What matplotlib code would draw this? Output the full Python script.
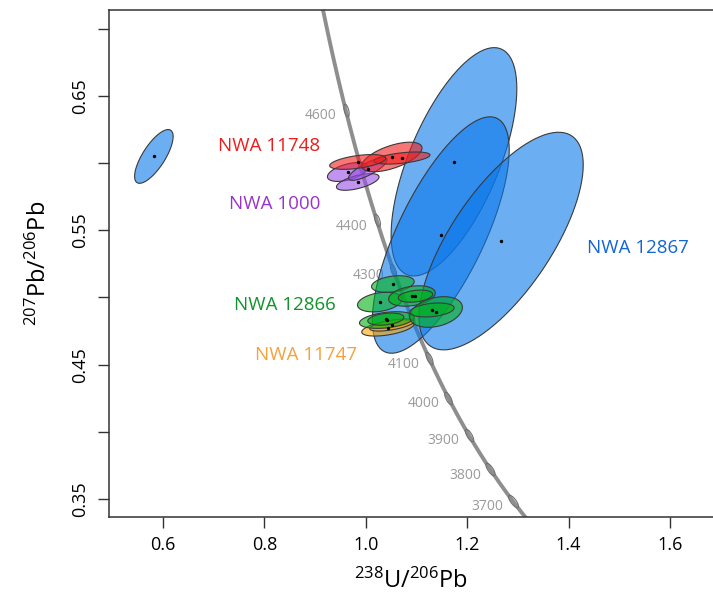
import numpy as np
import matplotlib
matplotlib.use("Agg")
import matplotlib.pyplot as plt
from matplotlib.path import Path
from matplotlib.patches import Polygon

plt.rcParams['font.family'] = ['Open Sans', 'DejaVu Sans']
plt.rcParams['mathtext.fontset'] = 'custom'
plt.rcParams['mathtext.rm'] = 'Open Sans'
plt.rcParams['mathtext.default'] = 'regular'

# error ellipses: x = 238U/206Pb, y = 207Pb/206Pb, sx/sy = half widths, rho = correlation
blue_x = [0.582, 1.174, 1.148, 1.267]
blue_sx = [0.038, 0.124, 0.135, 0.162]
blue_y = [0.605, 0.601, 0.5465, 0.542]
blue_sy = [0.020, 0.085, 0.088, 0.081]
blue_rho = [0.74, 0.64, 0.72, 0.70]

red_x = [1.0515, 1.0713, 0.9842]
red_sx = [0.0594, 0.0554, 0.0554]
red_y = [0.6046, 0.6038, 0.6009]
red_sy = [0.0110, 0.0045, 0.0055]
red_rho = [0.6, 0.5, 0.5]

purple_x = [0.9644, 0.9842, 1.004]
purple_sx = [0.0400, 0.0420, 0.0380]
purple_y = [0.5934, 0.5860, 0.5956]
purple_sy = [0.0070, 0.0062, 0.0084]
purple_rho = [0.5, 0.6, 0.8]

yellow_x = [1.0436, 1.0515]
yellow_sx = [0.0515, 0.0436]
yellow_y = [0.4773, 0.4795]
yellow_sy = [0.0060, 0.0045]
yellow_rho = [0.5, 0.6]

green_x = [1.0535, 1.0277, 1.0911, 1.0980, 1.0416, 1.0396, 1.1386, 1.1307]
green_sx = [0.0420, 0.0440, 0.0460, 0.0340, 0.0540, 0.0356, 0.0520, 0.0436]
green_y = [0.5100, 0.4966, 0.5011, 0.5010, 0.4832, 0.4839, 0.4892, 0.4907]
green_sy = [0.0062, 0.0073, 0.0076, 0.0045, 0.0062, 0.0045, 0.0114, 0.0052]
green_rho = [0.3, 0.3, 0.3, 0.3, 0.35, 0.3, 0.3, 0.3]

# concordia age ticks (Ma)
ages = [3700, 3800, 3900, 4000, 4100, 4200, 4300, 4400, 4500, 4600]
age_labels = [3700, 3800, 3900, 4000, 4100, 4300, 4400, 4600]

samples = ['NWA 11748', 'NWA 1000', 'NWA 12866', 'NWA 11747', 'NWA 12867']
label_x = [0.810, 0.820, 0.840, 0.883, 1.537]
label_y = [0.6128, 0.5696, 0.4944, 0.4571, 0.5368]
label_col = ['#ee1c1c', '#9933cc', '#12922a', '#f7a13c', '#1166d6']

# Tera-Wasserburg concordia
l238 = 1.55125e-10
l235 = 9.8485e-10
U85 = 137.818


def concordia(t_ma):
    t = np.asarray(t_ma) * 1e6
    e8 = np.exp(l238 * t) - 1
    e5 = np.exp(l235 * t) - 1
    return 1 / e8, e5 / e8 / U85


def ellipse_xy(x, sx, y, sy, rho, n=100):
    th = np.linspace(0, 2 * np.pi, n)
    ex = x + sx * np.cos(th)
    ey = y + sy * (rho * np.cos(th) + np.sqrt(1 - rho ** 2) * np.sin(th))
    return np.column_stack([ex, ey])


fig = plt.figure(figsize=(7.13, 6.0), dpi=100)
ax = fig.add_axes([108.5 / 713, 1 - 517 / 600, (713 - 108.5) / 713, (517 - 10) / 600])
ax.set_xlim(0.4925, 1.685)
ax.set_ylim(0.3366, 0.714)

tt = np.linspace(3400, 5000, 400)
cx, cy = concordia(tt)
ax.plot(cx, cy, color='#8e8e8e', lw=2.8, zorder=1, solid_capstyle='butt')

# age markers: small ellipses along the curve
fig.canvas.draw()
ax_x, ax_y = concordia(ages)
d1 = ax.transData.transform(np.column_stack(concordia(np.array(ages) - 5)))
d2 = ax.transData.transform(np.column_stack(concordia(np.array(ages) + 5)))
th = np.linspace(0, 2 * np.pi, 30)
for i in range(len(ages)):
    ang = np.arctan2(d2[i, 1] - d1[i, 1], d2[i, 0] - d1[i, 0])
    u = np.cos(th)
    v = 0.35 * np.sin(th)
    verts = np.column_stack([u * np.cos(ang) - v * np.sin(ang),
                             u * np.sin(ang) + v * np.cos(ang)])
    ax.plot(ax_x[i], ax_y[i], marker=Path(verts), ms=9, mfc='none',
            mec='#707070', mew=0.8, zorder=2)
for a in age_labels:
    px, py = concordia(a)
    ax.annotate(str(a), (px, py), xytext=(-9, -6), textcoords='offset pixels',
                ha='right', va='center', color='#9a9a9a', fontsize=10, zorder=2)


def draw_group(xs, sxs, ys, sys_, rhos, col, alpha):
    for x, sx, y, sy, r in zip(xs, sxs, ys, sys_, rhos):
        ax.add_patch(Polygon(ellipse_xy(x, sx, y, sy, r), closed=True,
                             facecolor=col, alpha=alpha, edgecolor='none', zorder=3))
        ax.add_patch(Polygon(ellipse_xy(x, sx, y, sy, r), closed=True,
                             facecolor='none', edgecolor='#3a3a3a', lw=0.8, zorder=3))
    ax.scatter(xs, ys, s=6, color='black', zorder=4, linewidths=0)


draw_group(blue_x, blue_sx, blue_y, blue_sy, blue_rho, '#0a78ea', 0.6)
draw_group(yellow_x, yellow_sx, yellow_y, yellow_sy, yellow_rho, '#ffa500', 0.6)
draw_group(green_x, green_sx, green_y, green_sy, green_rho, '#00b214', 0.6)
draw_group(purple_x, purple_sx, purple_y, purple_sy, purple_rho, '#9a4de8', 0.6)
draw_group(red_x, red_sx, red_y, red_sy, red_rho, '#f21c1c', 0.6)

for s, x, y, c in zip(samples, label_x, label_y, label_col):
    ax.text(x, y, s, color=c, fontsize=13.5, ha='center', va='center', zorder=5)

ax.set_xticks([0.6, 0.8, 1.0, 1.2, 1.4, 1.6])
ax.set_xticklabels(['0.6', '0.8', '1.0', '1.2', '1.4', '1.6'])
ax.set_yticks([0.35, 0.40, 0.45, 0.50, 0.55, 0.60, 0.65, 0.70])
ax.set_yticklabels(['0.35', '', '0.45', '', '0.55', '', '0.65', ''],
                   rotation=90, va='center')
ax.tick_params(direction='out', length=8, width=1, labelsize=13, pad=6, color='#333333')
for sp in ax.spines.values():
    sp.set_linewidth(1.1)
    sp.set_color('#333333')
ax.spines['right'].set_visible(False)

ax.set_xlabel(r'$^{238}$U/$^{206}$Pb', fontsize=17, labelpad=10)
ax.set_ylabel(r'$^{207}$Pb/$^{206}$Pb', fontsize=17, labelpad=14)

fig.savefig('out.png', dpi=100)
